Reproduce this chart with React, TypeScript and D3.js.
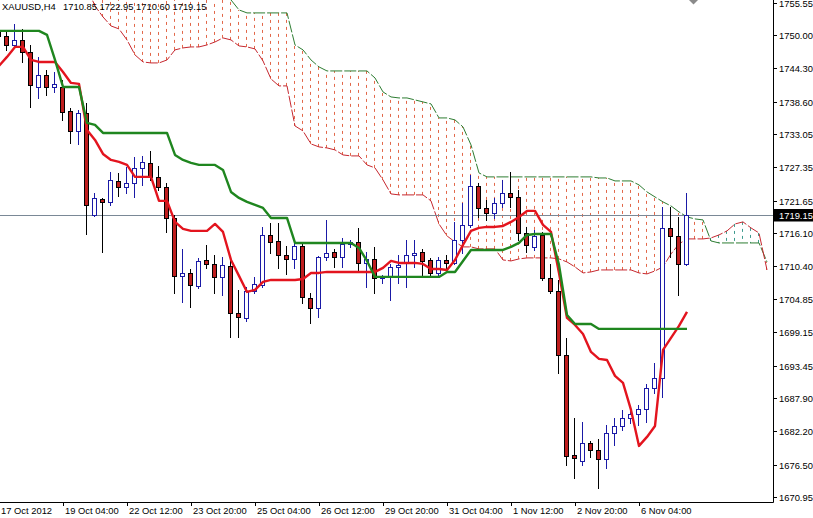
import React from 'react';
import * as d3 from 'd3';

// ---------- DATA ----------
const symbolLabel = 'XAUUSD,H4';
const firstBar = -1; // bar index of the first candle
const openP = [1750.70, 1749.84, 1748.30, 1749.16, 1747.10, 1741.11, 1743.17, 1741.11, 1741.11, 1737.01,
  1733.59, 1736.67, 1719.21, 1721.95, 1721.44, 1725.03, 1724.00, 1724.69, 1727.26, 1728.11,
  1725.72, 1724.00, 1718.70, 1708.78, 1709.29, 1707.07, 1711.51, 1710.83, 1708.61, 1710.49,
  1702.45, 1701.59, 1706.21, 1707.24, 1715.79, 1714.76, 1712.37, 1711.69, 1713.91, 1705.01,
  1703.30, 1712.03, 1712.88, 1712.03, 1714.25, 1714.59, 1711.00, 1711.69, 1708.43, 1708.78,
  1710.32, 1711.00, 1712.37, 1712.88, 1711.51, 1709.29, 1711.51, 1711.00, 1714.94, 1717.50,
  1724.18, 1720.41, 1719.56, 1721.27, 1722.98, 1722.29, 1716.13, 1713.74, 1715.79, 1708.43,
  1706.21, 1695.26, 1678.15, 1677.12, 1680.20, 1679.00, 1677.47, 1681.91, 1683.11, 1684.48,
  1685.16, 1686.02, 1689.61, 1691.32, 1716.99, 1715.62, 1710.85];
const highP = [1751.21, 1750.52, 1751.89, 1751.04, 1748.30, 1746.25, 1744.02, 1743.68, 1742.31, 1737.52,
  1737.18, 1738.38, 1722.98, 1722.10, 1726.57, 1726.40, 1727.43, 1729.14, 1729.31, 1730.16,
  1727.60, 1724.69, 1719.21, 1713.40, 1709.97, 1711.86, 1714.08, 1712.37, 1712.03, 1712.03,
  1706.38, 1706.89, 1708.61, 1717.16, 1717.84, 1717.84, 1713.91, 1714.59, 1714.25, 1705.87,
  1712.20, 1718.36, 1713.40, 1715.28, 1714.94, 1716.99, 1712.88, 1713.74, 1708.95, 1710.83,
  1712.37, 1714.94, 1714.94, 1713.40, 1711.86, 1712.03, 1712.37, 1718.02, 1721.27, 1726.06,
  1724.69, 1721.78, 1722.12, 1725.20, 1726.57, 1723.49, 1717.16, 1716.65, 1716.30, 1710.83,
  1708.09, 1698.17, 1684.48, 1683.80, 1680.54, 1680.89, 1683.28, 1684.48, 1685.85, 1686.36,
  1686.70, 1690.30, 1693.89, 1720.58, 1720.58, 1718.87, 1722.95];
const lowP = [1749.50, 1747.44, 1747.96, 1745.39, 1737.69, 1739.23, 1739.75, 1740.26, 1735.47, 1731.53,
  1731.36, 1715.96, 1719.04, 1712.88, 1720.92, 1722.46, 1722.98, 1722.29, 1724.35, 1725.20,
  1723.49, 1716.30, 1705.87, 1704.33, 1703.47, 1706.72, 1710.15, 1705.87, 1705.53, 1698.34,
  1698.34, 1701.08, 1705.87, 1706.89, 1712.71, 1710.15, 1709.12, 1710.15, 1704.16, 1700.73,
  1701.76, 1711.51, 1710.32, 1710.32, 1713.74, 1709.80, 1706.89, 1705.87, 1707.58, 1704.67,
  1707.58, 1706.89, 1710.32, 1708.95, 1708.95, 1708.61, 1709.80, 1710.83, 1712.71, 1717.16,
  1718.87, 1718.36, 1718.70, 1720.58, 1720.58, 1714.94, 1712.88, 1713.22, 1708.09, 1705.87,
  1692.18, 1676.44, 1674.21, 1676.44, 1677.81, 1672.50, 1675.93, 1679.86, 1682.43, 1683.62,
  1683.28, 1683.80, 1688.76, 1688.07, 1712.03, 1705.53, 1710.60];
const closeP = [1749.84, 1748.30, 1749.16, 1747.10, 1741.46, 1743.17, 1741.11, 1741.63, 1736.84, 1733.59,
  1736.67, 1720.92, 1722.12, 1721.44, 1725.20, 1724.00, 1724.69, 1727.26, 1728.28, 1725.72,
  1724.00, 1718.70, 1708.78, 1709.29, 1707.24, 1711.34, 1710.83, 1708.61, 1710.66, 1702.45,
  1701.76, 1706.21, 1707.41, 1715.79, 1714.59, 1712.37, 1711.69, 1713.91, 1705.18, 1703.30,
  1712.03, 1712.71, 1712.03, 1714.25, 1714.59, 1711.00, 1711.69, 1708.43, 1708.78, 1710.32,
  1710.66, 1712.37, 1712.71, 1711.34, 1709.29, 1711.51, 1711.00, 1714.94, 1717.50, 1724.18,
  1720.41, 1719.56, 1721.27, 1722.98, 1722.29, 1716.13, 1714.08, 1715.62, 1708.43, 1706.21,
  1695.26, 1677.98, 1677.64, 1680.20, 1679.00, 1677.47, 1681.91, 1683.11, 1684.48, 1685.16,
  1686.02, 1689.61, 1691.32, 1716.99, 1715.62, 1710.85, 1719.15];

// Tenkan-sen and Kijun-sen, one value per candle
const tenkan = [1744.71, 1746.25, 1747.96, 1747.96, 1745.73, 1745.39, 1745.39, 1745.39, 1743.68, 1741.80,
  1741.63, 1733.76, 1732.05, 1729.65, 1728.62, 1728.28, 1727.77, 1725.72, 1725.72, 1725.72,
  1721.61, 1721.61, 1718.02, 1716.82, 1716.48, 1716.48, 1716.48, 1717.67, 1716.30, 1711.51,
  1708.78, 1706.04, 1706.38, 1707.75, 1708.09, 1708.09, 1708.09, 1708.09, 1708.26, 1709.29,
  1709.29, 1709.46, 1709.46, 1709.46, 1709.46, 1709.46, 1709.46, 1709.46, 1710.15, 1711.34,
  1711.00, 1711.00, 1711.00, 1710.83, 1709.97, 1709.97, 1709.80, 1711.51, 1714.08, 1716.48,
  1716.99, 1717.16, 1717.16, 1717.33, 1718.02, 1718.87, 1719.90, 1719.90, 1717.50, 1716.30,
  1709.29, 1701.59, 1700.39, 1698.85, 1695.77, 1694.58, 1694.40, 1691.67, 1690.47, 1685.85,
  1679.69, 1681.23, 1683.11, 1696.11, 1698.17, 1700.22, 1702.62];
const kijun = [1750.70, 1750.70, 1750.70, 1750.70, 1750.70, 1750.70, 1750.01, 1745.73, 1741.11, 1741.11,
  1741.11, 1734.95, 1734.61, 1733.24, 1733.24, 1733.24, 1733.24, 1733.24, 1733.24, 1733.24,
  1733.24, 1733.24, 1729.48, 1728.62, 1728.11, 1727.77, 1727.77, 1727.77, 1726.91, 1723.15,
  1722.12, 1721.44, 1720.92, 1720.41, 1718.70, 1718.70, 1718.70, 1714.42, 1714.42, 1714.42,
  1714.42, 1714.42, 1714.42, 1714.42, 1714.42, 1713.57, 1711.34, 1708.61, 1708.61, 1708.61,
  1708.61, 1708.61, 1708.61, 1708.61, 1708.61, 1708.61, 1709.46, 1709.46, 1711.34, 1713.22,
  1713.22, 1713.22, 1713.22, 1713.22, 1713.74, 1714.42, 1715.79, 1715.96, 1715.96, 1715.96,
  1710.66, 1702.10, 1700.56, 1700.56, 1700.56, 1699.71, 1699.71, 1699.71, 1699.71, 1699.71,
  1699.71, 1699.71, 1699.71, 1699.71, 1699.71, 1699.71, 1699.71];

// Senkou spans (cloud), shifted forward, starting at bar 10
const spanStart = 10;
const spanA = [1758.05, 1754.97, 1753.09, 1751.55, 1751.04, 1749.16, 1746.59, 1745.39, 1745.22, 1745.22,
  1745.73, 1747.45, 1747.79, 1747.96, 1747.96, 1748.30, 1748.81, 1749.50, 1749.16, 1748.13,
  1747.96, 1747.62, 1745.56, 1742.48, 1741.29, 1741.29, 1734.44, 1733.59, 1731.36, 1730.85,
  1730.68, 1730.34, 1729.48, 1729.31, 1729.31, 1727.77, 1727.26, 1725.20, 1722.81, 1722.64,
  1722.64, 1722.64, 1722.64, 1721.61, 1717.67, 1715.62, 1714.59, 1713.74, 1713.74, 1713.40,
  1713.40, 1713.40, 1711.51, 1711.34, 1711.69, 1711.86, 1711.86, 1711.86, 1711.86, 1711.69,
  1711.17, 1710.32, 1709.29, 1709.46, 1709.80, 1709.80, 1709.80, 1709.80, 1709.80, 1709.29,
  1709.12, 1709.63, 1710.32, 1712.54, 1714.25, 1715.11, 1715.11, 1715.11, 1715.28, 1715.79,
  1716.48, 1717.67, 1718.02, 1716.99, 1716.13, 1709.80];
const spanB = [1759.50, 1759.50, 1759.50, 1759.50, 1759.50, 1759.50, 1759.50, 1759.50, 1759.50, 1759.50,
  1759.50, 1759.50, 1759.50, 1759.50, 1759.50, 1759.50, 1759.50, 1757.00, 1756.00, 1754.29,
  1753.78, 1753.78, 1753.78, 1753.78, 1753.78, 1753.78, 1748.30, 1747.45, 1745.73, 1744.54,
  1743.85, 1743.85, 1743.85, 1743.85, 1743.85, 1743.85, 1742.65, 1740.26, 1739.40, 1739.23,
  1739.23, 1738.89, 1738.55, 1738.21, 1735.81, 1735.81, 1735.47, 1734.27, 1731.19, 1726.40,
  1725.72, 1725.72, 1725.72, 1725.72, 1725.72, 1725.72, 1725.72, 1725.72, 1725.72, 1725.72,
  1725.72, 1725.72, 1725.72, 1725.72, 1725.54, 1725.54, 1725.03, 1725.03, 1725.03, 1724.35,
  1723.15, 1722.29, 1721.44, 1720.75, 1719.73, 1718.87, 1718.53, 1718.36, 1714.76, 1714.42,
  1714.42, 1714.42, 1714.42, 1714.42, 1714.42, 1711.17];

const priceTicks = [1755.55, 1750.00, 1744.30, 1738.60, 1733.05, 1727.35, 1721.65, 1716.10, 1710.40,
  1704.85, 1699.15, 1693.45, 1687.90, 1682.20, 1676.50, 1670.95];
const timeLabels = ['17 Oct 2012', '19 Oct 04:00', '22 Oct 12:00', '23 Oct 20:00', '25 Oct 04:00',
  '26 Oct 12:00', '29 Oct 20:00', '31 Oct 04:00', '1 Nov 12:00', '2 Nov 20:00', '6 Nov 04:00'];
const timeLabelBars = [-1, 7, 15, 23, 31, 39, 47, 55, 63, 71, 79];

// ---------- CHART ----------
const W = 813;
const H = 518;
const PR = 773; // plot right edge
const PB = 502; // plot bottom edge
const FONT = '"Liberation Sans", Arial, sans-serif';
const FS = 9.4;

export default function App() {
  const x = d3.scaleLinear().domain([0, 85]).range([7, 687]);
  const y = d3.scaleLinear().domain([1670.95, 1750.0]).range([497, 35]);

  const bars = openP.map((o, i) => ({
    k: i + firstBar, o, h: highP[i], l: lowP[i], c: closeP[i],
  }));
  const lastClose = closeP[closeP.length - 1];
  const lastBar = bars[bars.length - 1];

  const perBar = (arr: number[], start: number) => arr.map((v, i) => [start + i, v] as [number, number]);
  const line = d3.line<[number, number]>().x(d => x(d[0])).y(d => y(d[1]));

  const tenkanPath = line(perBar(tenkan, firstBar)) || '';
  const kijunPath = line(perBar(kijun, firstBar)) || '';
  const spanAPath = line(perBar(spanA, spanStart)) || '';
  const spanBPath = line(perBar(spanB, spanStart)) || '';

  const hatch = spanA.map((a, i) => ({ k: spanStart + i, a, b: spanB[i] }));

  const priceY = Math.round(y(lastClose)) + 0.5;

  return (
    <svg width={W} height={H} viewBox={`0 0 ${W} ${H}`}
      style={{ position: 'absolute', left: 0, top: 0, background: '#fff', display: 'block' }}
      fontFamily={FONT}>
      <rect x={0} y={0} width={W} height={H} fill="#ffffff" />
      <defs>
        <clipPath id="plotClip">
          <rect x={0} y={0} width={PR} height={PB} />
        </clipPath>
      </defs>

      <g clipPath="url(#plotClip)">
        {/* cloud hatching */}
        {hatch.map(d => (
          <line key={'h' + d.k}
            x1={x(d.k) - 0.5} x2={x(d.k) - 0.5}
            y1={y(d.a)} y2={y(d.b)}
            stroke={d.b >= d.a ? '#E2684A' : '#3E9A8E'}
            strokeWidth={1} strokeDasharray="3,4" />
        ))}
        {/* senkou span lines */}
        <path d={spanBPath} fill="none" stroke="#2E7D32" strokeWidth={1} strokeDasharray="12,2" />
        <path d={spanAPath} fill="none" stroke="#C62830" strokeWidth={1} strokeDasharray="12,2" />

        {/* current price line */}
        <line x1={0} x2={PR} y1={priceY} y2={priceY} stroke="#7A8896" strokeWidth={1} />

        {/* candles */}
        {bars.map(b => {
          const cx = x(b.k);
          const up = b.c >= b.o;
          const top = Math.round(y(Math.max(b.o, b.c))) + 0.5;
          const bot = Math.round(y(Math.min(b.o, b.c))) + 0.5;
          const col = up ? '#1A1AA6' : '#000000';
          return (
            <g key={'c' + b.k}>
              <line x1={cx - 0.5} x2={cx - 0.5} y1={Math.round(y(b.h))} y2={Math.round(y(b.l)) + 1}
                stroke={col} strokeWidth={1} />
              <rect x={cx - 2.5} y={top} width={4} height={Math.max(bot - top, 1)}
                fill={up ? '#ffffff' : '#BE1E1E'} stroke={col} strokeWidth={1} />
            </g>
          );
        })}

        {/* tenkan / kijun */}
        <path d={tenkanPath} fill="none" stroke="#E3141E" strokeWidth={2.4} strokeLinejoin="round" />
        <path d={kijunPath} fill="none" stroke="#1F861F" strokeWidth={2.4} strokeLinejoin="round" />
      </g>

      {/* chart shift marker */}
      <polygon points="689,0 698,0 693.5,4.5" fill="#8A8A8A" />

      {/* header */}
      <text x={2} y={9.5} fontSize={FS} fill="#000">{symbolLabel}</text>
      <text x={63} y={9.5} fontSize={FS} fill="#000">
        {`${lastBar.o.toFixed(2)} ${lastBar.h.toFixed(2)} ${lastBar.l.toFixed(2)} ${lastBar.c.toFixed(2)}`}
      </text>

      {/* axes */}
      <line x1={PR + 0.5} x2={PR + 0.5} y1={0} y2={PB + 0.5} stroke="#000" strokeWidth={1} />
      <line x1={0} x2={PR + 0.5} y1={PB + 0.5} y2={PB + 0.5} stroke="#000" strokeWidth={1} />

      {priceTicks.map(v => {
        const ty = Math.round(y(v)) + 0.5;
        return (
          <g key={'pt' + v}>
            <line x1={PR} x2={PR + 4} y1={ty} y2={ty} stroke="#000" strokeWidth={1} />
            <text x={779} y={ty + 3.3} fontSize={FS} fill="#000">{v.toFixed(2)}</text>
          </g>
        );
      })}

      {/* current price label */}
      <rect x={774} y={priceY - 6.5} width={39} height={12.5} fill="#000" />
      <text x={779} y={priceY + 3.5} fontSize={FS} fill="#fff">{lastClose.toFixed(2)}</text>

      {timeLabels.map((t, i) => {
        const tx = Math.round(x(timeLabelBars[i])) + 0.5;
        return (
          <g key={'tl' + i}>
            {i > 0 && <line x1={tx} x2={tx} y1={PB} y2={PB + 4} stroke="#000" strokeWidth={1} />}
            <text x={Math.max(tx + 1.5, 1)} y={514} fontSize={FS} fill="#000">{t}</text>
          </g>
        );
      })}
    </svg>
  );
}
